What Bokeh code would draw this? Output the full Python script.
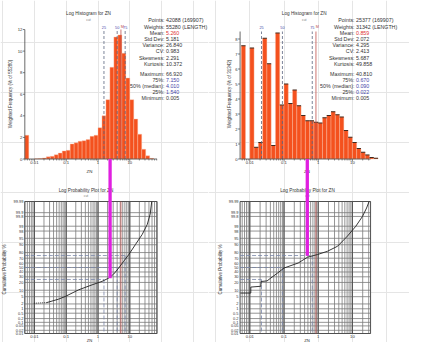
import math
from statistics import NormalDist
from bokeh.plotting import figure
from bokeh.models import Range1d, LinearScale
from bokeh.layouts import row
from bokeh.embed import file_html
from bokeh.resources import INLINE
from bokeh.core.properties import value

# ---------------------------------------------------------------- data
bin_width_log = 0.125          # histogram bins: 1/8 decade

# left panel (all samples)
left_first_bar_lo = 0.005      # detection-limit bar at the minimum
left_first_bar_h = 2.2
left_k_start = -16             # first regular bin starts at 10**(k*bin_width_log)
left_heights = [0.02, 0.04, 0.1, 0.2, 0.25, 0.4, 0.55, 0.75, 0.8, 1.4,
                1.5, 1.65, 1.7, 1.8, 2.1, 2.2,
                2.9, 4.0, 5.5, 8.5, 11.3, 11.5, 9.8, 7.5, 5.5, 3.7, 2.3, 0.9, 0.3, 0.06]
left_curve_zn = [0.0096, 0.0245, 0.057, 0.093, 0.245, 0.65, 1.34, 2.17, 3.12, 4.47,
                 6.44, 9.3, 15.1, 24.6, 35.5, 43.7, 49.0]
left_curve_pct = [2.2, 2.4, 3.7, 5.1, 10.4, 16.4, 21.7, 27.5, 35.6, 48.8,
                  63.8, 76.7, 90.3, 96.9, 99.25, 99.87, 99.99]
left_pcts = [25, 50, 75]
left_pct_vals = [1.54, 4.01, 7.15]
left_mean = 5.26
left_cut = [2.4, 27.3]         # magenta cut-off value and its cumulative %
left_stat_values = ["42088 (169907)", "55280 (LENGTH)", "5.260", "5.181", "26.840", "0.983",
                    "2.291", "10.372", "66.920", "7.150", "4.010", "1.540", "0.005"]
left_hist_ticks = [0, 2, 4, 6, 8, 10, 12]
left_ylabel = "Weighted Frequency (% of 55280)"

# right panel (subset)
right_first_bar_lo = None
right_first_bar_h = None
right_k_start = -18
right_heights = [7.55, 0.0, 7.4, 0.78, 1.1, 8.05, 6.35, 0.9, 8.4, 3.6, 5.0, 3.7, 4.6, 3.55,
                 2.9, 2.55, 2.55, 2.45,
                 2.4, 2.75, 2.9, 3.15, 2.95, 2.8, 1.9, 1.45, 1.1, 0.7, 0.45, 0.27, 0.1, 0.05]
right_curve_zn = [0.0053, 0.0107, 0.0107, 0.021, 0.0215, 0.032, 0.041, 0.065, 0.10, 0.26,
                  0.49, 0.95, 1.87, 3.7, 7.2, 12.6, 19.7, 26.0, 30.8]
right_curve_pct = [7.5, 7.5, 13.5, 14.5, 21.5, 22.5, 27.5, 37.8, 48.8, 60.0,
                   72.0, 76.7, 82.0, 88.5, 96.2, 99.0, 99.8, 99.96, 99.99]
right_pcts = [25, 50, 75]
right_pct_vals = [0.022, 0.090, 0.670]
right_mean = 0.859
right_cut = [0.48, 74.5]
right_stat_values = ["25377 (169907)", "31342 (LENGTH)", "0.859", "2.072", "4.295", "2.413",
                     "5.687", "49.858", "40.810", "0.670", "0.090", "0.022", "0.005"]
right_hist_ticks = [0, 1, 2, 3, 4, 5, 6, 7, 8]
right_ylabel = "Weighted Frequency (% of 31342)"

stat_labels = ["Points:", "Weights:", "Mean:", "Std Dev:", "Variance:", "CV:", "Skewness:",
               "Kurtosis:", "Maximum:", "75%:", "50% (median):", "25%:", "Minimum:"]
prob_levels = [0.01, 0.02, 0.05, 0.1, 0.2, 0.5, 1, 2, 5, 10, 20, 30, 40, 50, 60, 70, 80,
               90, 95, 98, 99, 99.8, 99.9, 99.99]
prob_labels = ["0.01", "0.02", "0.05", "0.1", "0.2", "0.5", "1", "2", "5", "10", "20", "30",
               "40", "50", "60", "70", "80", "90", "95", "98", "99", "99.8", "99.9", "99.99"]
x_ticks = [0.01, 0.1, 1, 10]
x_tick_labels = ["0.01", "0.1", "1", "10"]

# ---------------------------------------------------------------- styling / layout
FONT = "Liberation Sans"
TXT = "#333333"
BAR = "#F4511E"
PCT_LINE = "#5C6680"
PCT_TXT = "#4646A8"
MEAN_C = "#C0504D"
MAGENTA = "#E020E0"
GRID = "#7A7A7A"
CANVAS_TOP, CANVAS_BOTTOM = 8, 350
H = CANVAS_BOTTOM - CANVAS_TOP
ND = NormalDist()


def zval(pct):
    return ND.inv_cdf(pct / 100.0)


Z_MAX = zval(99.99)

cols = [
    dict(x0=8, w=208, one_px=105.5, ppd=31.8, xlim=(0.005, 72.0),
         hist_zero=166.5, hist_ppu=10.79, hist_top=12.0,
         prob_top=209.0, prob_bot=341.0,
         first_lo=left_first_bar_lo, first_h=left_first_bar_h, k_start=left_k_start,
         heights=left_heights, curve_zn=left_curve_zn, curve_pct=left_curve_pct, dotted_first=True,
         pcts=left_pcts, pct_vals=left_pct_vals, mean=left_mean, cut=left_cut,
         stat_values=left_stat_values, hist_ticks=left_hist_ticks, ylabel=left_ylabel,
         caps=False,
         title_x=96.0, stats_colon=172.0, hylab_x=18.3, pylab_x=11.7, ytick_r=29.8,
         ptick_r=30.8, ptitle_x=93.5, zn_x=97.0),
    dict(x0=216, w=201, one_px=325.7, ppd=34.2, xlim=(0.0052, 34.0),
         hist_zero=166.5, hist_ppu=15.0, hist_top=8.5,
         prob_top=209.0, prob_bot=341.0,
         first_lo=right_first_bar_lo, first_h=right_first_bar_h, k_start=right_k_start,
         heights=right_heights, curve_zn=right_curve_zn, curve_pct=right_curve_pct, dotted_first=False,
         pcts=right_pcts, pct_vals=right_pct_vals, mean=right_mean, cut=right_cut,
         stat_values=right_stat_values, hist_ticks=right_hist_ticks, ylabel=right_ylabel,
         caps=True,
         title_x=311.7, stats_colon=362.0, hylab_x=236.7, pylab_x=228.3, ytick_r=245.0,
         ptick_r=246.0, ptitle_x=315.0, zn_x=314.5),
]


def build(c):
    x0, w = c["x0"], c["w"]
    x1 = x0 + w
    one_px, ppd = c["one_px"], c["ppd"]

    def lg(px):
        return (px - one_px) / ppd

    def xpx(v):
        return one_px + math.log10(v) * ppd

    hz, hppu = c["hist_zero"], c["hist_ppu"]

    def hpx(v):
        return hz - v * hppu

    pc = (c["prob_top"] + c["prob_bot"]) / 2.0
    ppz = (c["prob_bot"] - c["prob_top"]) / (2 * Z_MAX)

    def ppx(pct):
        return pc - zval(pct) * ppz

    p = figure(width=w, height=H, x_axis_type="log",
               x_range=Range1d(10 ** lg(x0), 10 ** lg(x1)),
               y_range=Range1d(CANVAS_BOTTOM, CANVAS_TOP),
               x_axis_location=None, y_axis_location=None, title=None,
               toolbar_location=None, output_backend="svg", min_border=0)
    p.outline_line_color = None
    p.background_fill_color = "white"
    p.border_fill_color = "white"
    p.extra_x_ranges = {"px": Range1d(x0, x1)}
    p.extra_x_scales = {"px": LinearScale()}
    p.extra_y_ranges = {
        "hist": Range1d((hz - CANVAS_BOTTOM) / hppu, (hz - CANVAS_TOP) / hppu),
        "prob": Range1d((pc - CANVAS_BOTTOM) / ppz, (pc - CANVAS_TOP) / ppz),
    }

    def txt(xs, ys, texts, size, color=TXT, align="center", angle=0.0, baseline="middle"):
        p.text(x=xs, y=ys, text=texts, x_range_name="px",
               text_font=value(FONT), text_font_size=value(f"{size}px"),
               text_color=color, text_align=align, text_baseline=baseline, angle=angle)

    xa, xb = c["xlim"]

    # ------------------------------------------------ histogram
    lo, hi, top = [], [], []
    if c["first_lo"] is not None:
        lo.append(c["first_lo"]); hi.append(c["first_lo"] * 10 ** bin_width_log); top.append(c["first_h"])
    for i, h in enumerate(c["heights"]):
        k = c["k_start"] + i
        if h <= 0:
            continue
        lo.append(10 ** (k * bin_width_log)); hi.append(10 ** ((k + 1) * bin_width_log)); top.append(h)
    p.quad(left=lo, right=hi, bottom=0, top=top, y_range_name="hist",
           fill_color=BAR, line_color="#FBC3A8", line_width=0.4)
    if c["caps"]:
        p.segment(x0=lo, y0=top, x1=hi, y1=top, y_range_name="hist",
                  line_color="#2A1A10", line_width=0.9)

    # percentile / mean lines on histogram
    p.segment(x0=c["pct_vals"], y0=0, x1=c["pct_vals"], y1=c["hist_top"], y_range_name="hist",
              line_color=PCT_LINE, line_width=0.8, line_dash="3 2")
    p.segment(x0=[c["mean"]], y0=0, x1=[c["mean"]], y1=c["hist_top"], y_range_name="hist",
              line_color=MEAN_C, line_width=0.8)
    txt([xpx(v) for v in c["pct_vals"]], [34.5] * 3, [str(q) for q in c["pcts"]], 3.8, color=PCT_TXT)
    txt([xpx(c["mean"]) + 1.5], [34.5], ["M"], 3.8, color=MEAN_C)

    # histogram axes
    p.segment(x0=[xa], y0=[0], x1=[xa], y1=[c["hist_top"]], y_range_name="hist",
              line_color="#444444", line_width=0.8)
    p.segment(x0=[xa], y0=[0], x1=[xb], y1=[0], y_range_name="hist",
              line_color="#444444", line_width=0.8)
    ht = c["hist_ticks"]
    p.segment(x0=[xpx(xa) - 2] * len(ht), y0=[hpx(v) for v in ht], x1=[xpx(xa)] * len(ht),
              y1=[hpx(v) for v in ht], x_range_name="px", line_color="#444444", line_width=0.7)
    txt([c["ytick_r"]] * len(ht), [hpx(v) for v in ht], [str(v) for v in ht], 4.2, align="right")
    minor = [m * 10.0 ** n for n in range(-3, 2) for m in range(1, 10)]
    minor = [v for v in minor if xa <= v <= xb]
    p.segment(x0=minor, y0=[hz] * len(minor), x1=minor,
              y1=[hz + (2.5 if abs(math.log10(v) - round(math.log10(v))) < 1e-9 else 1.5) for v in minor],
              line_color="#444444", line_width=0.6)
    txt([xpx(v) for v in x_ticks], [hz + 3.6] * 4, x_tick_labels, 4.2)
    txt([c["zn_x"]], [178.5], ["ZN"], 4.4)
    txt([c["hylab_x"]], [101.5], [c["ylabel"]], 4.5, angle=math.pi / 2)

    # titles
    txt([c["title_x"]], [21.0], ["Log Histogram for ZN"], 4.7)
    txt([c["title_x"]], [27.3], ["cut"], 3.3, color="#777777")
    txt([c["ptitle_x"]], [197.8], ["Log Probability Plot for ZN"], 4.7)
    txt([c["ptitle_x"]], [203.6], ["cut"], 3.3, color="#777777")

    # statistics block
    ys = [27.8 + 6.2 * i for i in range(8)] + [81.0 + 6.2 * i for i in range(5)]
    txt([c["stats_colon"]] * 13, ys, stat_labels, 5.3, align="right")
    vcols = [TXT, TXT, "#E03030", TXT, TXT, TXT, TXT, TXT, TXT, PCT_TXT, PCT_TXT, PCT_TXT, TXT]
    txt([c["stats_colon"] + 1.5] * 13, ys, c["stat_values"], 5.3, color=vcols, align="left")

    # ------------------------------------------------ probability plot
    zlo, zhi = -Z_MAX, Z_MAX
    pl = [zval(q) for q in prob_levels]
    p.segment(x0=[xa] * len(pl), y0=pl, x1=[xb] * len(pl), y1=pl, y_range_name="prob",
              line_color=GRID, line_width=0.8)
    dec = [v for v in minor if abs(math.log10(v) - round(math.log10(v))) < 1e-9]
    p.segment(x0=minor, y0=zlo, x1=minor, y1=zhi, y_range_name="prob",
              line_color=GRID, line_width=0.8)
    p.segment(x0=dec, y0=zlo, x1=dec, y1=zhi, y_range_name="prob",
              line_color="#505050", line_width=1.0)
    p.quad(left=[xa], right=[xb], bottom=[zlo], top=[zhi], y_range_name="prob",
           fill_color=None, line_color="#505050", line_width=1.0)

    # percentile guides
    pz = [zval(q) for q in c["pcts"]]
    p.segment(x0=[xa] * 3, y0=pz, x1=c["pct_vals"], y1=pz, y_range_name="prob",
              line_color="#7A86A8", line_width=0.8, line_dash="4 2")
    p.segment(x0=c["pct_vals"], y0=pz, x1=c["pct_vals"], y1=[zlo] * 3, y_range_name="prob",
              line_color="#7A86A8", line_width=0.8, line_dash="4 2")
    p.segment(x0=[c["mean"]], y0=[zlo], x1=[c["mean"]], y1=[zhi], y_range_name="prob",
              line_color=MEAN_C, line_width=0.8)

    # cumulative curve
    cz = [zval(q) for q in c["curve_pct"]]
    if c["dotted_first"]:
        p.line(x=c["curve_zn"][:2], y=cz[:2], y_range_name="prob", line_color="#222222",
               line_width=0.9, line_dash="1 1")
        p.line(x=c["curve_zn"][1:], y=cz[1:], y_range_name="prob", line_color="#222222", line_width=0.9)
    else:
        p.line(x=c["curve_zn"], y=cz, y_range_name="prob", line_color="#222222", line_width=0.9)

    # axes text of the probability plot
    txt([c["ptick_r"]] * len(pl), [ppx(q) for q in prob_levels], prob_labels, 3.9, align="right")
    txt([xpx(v) for v in x_ticks], [344.3] * 4, x_tick_labels, 4.2)
    txt([c["zn_x"]], [348.3], ["ZN"], 4.2)
    txt([c["pylab_x"]], [277.0], ["Cumulative Probability %"], 4.5, angle=math.pi / 2)

    # magenta cut-off link from histogram axis to the cumulative curve
    cv, cp = c["cut"]
    p.segment(x0=[cv], y0=[hz], x1=[cv], y1=[ppx(cp)], line_color=MAGENTA, line_width=3.3)
    return p


layout = row([build(c) for c in cols], spacing=0)
open("out.html", "w").write(file_html(layout, INLINE))
